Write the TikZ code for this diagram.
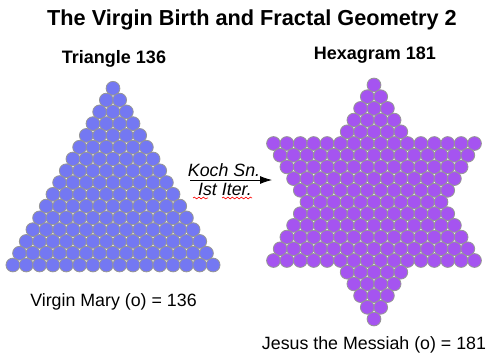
\documentclass[tikz,border=0pt]{standalone}
\usepackage{fontspec}
\setmainfont{Liberation Sans}
\usetikzlibrary{arrows.meta,decorations.pathmorphing}
\definecolor{triblue}{RGB}{116,120,242}
\definecolor{hexpurple}{RGB}{165,84,240}
\definecolor{rimgray}{RGB}{150,150,150}
\tikzset{
  ballA/.style={fill=triblue,draw=rimgray,line width=0.8pt},
  ballB/.style={fill=hexpurple,draw=rimgray,line width=0.8pt},
  titletext/.style={anchor=base,inner sep=0pt,font=\fontsize{21.7}{26}\selectfont\bfseries},
  headtext/.style={anchor=base,inner sep=0pt,font=\fontsize{18}{22}\selectfont\bfseries},
  captext/.style={anchor=base,inner sep=0pt,font=\fontsize{17.8}{22}\selectfont},
  arrtext/.style={anchor=base,inner sep=0pt,font=\fontsize{17.8}{22}\selectfont\itshape},
  squiggle/.style={draw=red,line width=0.6pt,decorate,decoration={snake,amplitude=0.9pt,segment length=4.5pt}}
}
\begin{document}
\begin{tikzpicture}[x=1pt,y=-1pt]
\fill[white] (0,0) rectangle (490,359);
\useasboundingbox (0,0) rectangle (490,359);

\node[titletext] (title) at (252,25) {The Virgin Birth and Fractal Geometry 2};
\node[headtext] (trihead) at (114,63) {Triangle 136};
\node[headtext] (hexhead) at (375,59.5) {Hexagram 181};

% triangle of 136 circles
\foreach \r in {0,...,15}{
  \foreach \j in {0,...,\r}{
    \draw[ballA] ({113+(\j-\r/2)*13.35},{88.3+\r*11.78}) circle[radius=6.9pt];
  }
}

% hexagram of 181 circles
\foreach \r in {0,...,20}{
  \pgfmathtruncatemacro{\upc}{\r<=15 ? \r+1 : 0}
  \pgfmathtruncatemacro{\dnc}{\r>=5 ? 21-\r : 0}
  \pgfmathtruncatemacro{\lastj}{max(\upc,\dnc)-1}
  \foreach \j in {0,...,\lastj}{
    \draw[ballB] ({374+(\j-\lastj/2)*13.4},{85+\r*11.7}) circle[radius=6.9pt];
  }
}

% arrow
\coordinate (arrA) at (190,180);
\coordinate (arrB) at (272,180);
\draw[line width=0.8pt,-{Latex[length=12pt,width=8pt]}] (arrA) -- (arrB);
\node[arrtext] (koch) at (224,176) {Koch Sn.};
\node[arrtext] (iter) at (225,195.5) {Ist Iter.};
\coordinate (sqA1) at (193,198);
\coordinate (sqA2) at (208,198);
\coordinate (sqB1) at (222,198);
\coordinate (sqB2) at (252,198);
\draw[squiggle] (sqA1) -- (sqA2);
\draw[squiggle] (sqB1) -- (sqB2);

\node[captext] (mary) at (113.5,306) {Virgin Mary (o) = 136};
\node[captext] (jesus) at (374,349) {Jesus the Messiah (o) = 181};
\end{tikzpicture}
\end{document}
